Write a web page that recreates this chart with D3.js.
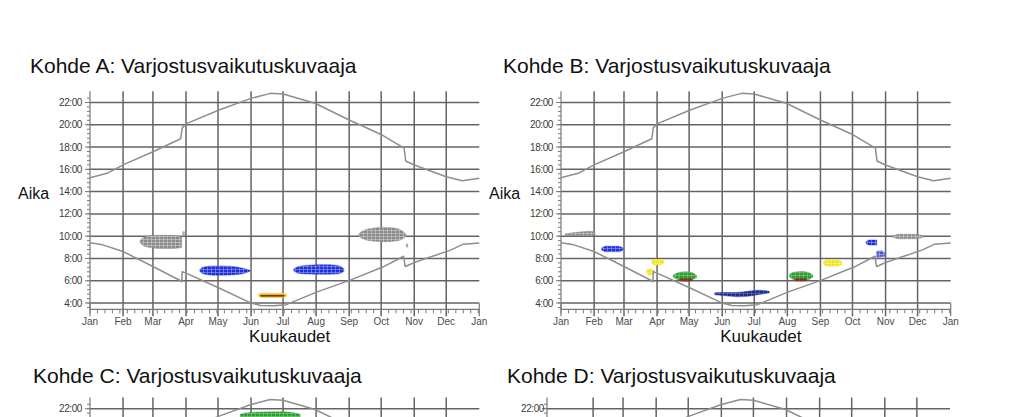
<!DOCTYPE html>
<html><head><meta charset="utf-8">
<script src="https://cdn.jsdelivr.net/npm/d3@7"></script>
<style>
body{margin:0;background:#fff}
svg{display:block}
text{font-family:"Liberation Sans",Arial,sans-serif}
</style>
</head><body>
<svg id="c" width="1024" height="417"></svg>
<script>
// ---------- data ----------
const monthLabels = ["Jan","Feb","Mar","Apr","May","Jun","Jul","Aug","Sep","Oct","Nov","Dec","Jan"];
const monthStartDays = [0,31,59,90,120,151,181,212,243,273,304,334,365];
const hourTicks = [4,6,8,10,12,14,16,18,20,22];
const hourLabels = ["4:00","6:00","8:00","10:00","12:00","14:00","16:00","18:00","20:00","22:00"];
const titles = ["Kohde A: Varjostusvaikutuskuvaaja","Kohde B: Varjostusvaikutuskuvaaja","Kohde C: Varjostusvaikutuskuvaaja","Kohde D: Varjostusvaikutuskuvaaja"];
const yAxisTitle = "Aika";
const xAxisTitle = "Kuukaudet";

// sunrise / sunset [dayOfYear, hour]
const sunrise = [[0,9.4],[12,9.22],[31,8.62],[59,7.28],[85,6.0],[86,5.9],[86.5,6.82],[90,6.68],[122,5.3],[150,4.03],[160,3.78],[172,3.75],[184,3.85],[213,5.0],[244,6.05],[275,7.25],[294,8.2],[295.5,7.28],[306,7.7],[338,8.75],[350,9.28],[365,9.38]];
const sunset = [[0,15.25],[16,15.64],[32,16.45],[59,17.58],[85,18.75],[86.5,19.75],[91,20.13],[121,21.33],[151,22.37],[169,22.82],[181,22.76],[211,21.93],[243,20.43],[274,19.08],[294.5,17.9],[296,16.75],[304,16.39],[334,15.34],[349,14.98],[365,15.19]];

// shadow periods [day, startHour, endHour]
const aGrayMar = [[47,9.42,9.62],[50,9.15,9.88],[55,9.0,10.02],[62,8.9,10.08],[72,8.88,10.08],[80,8.9,10.04],[86,8.98,9.95]];
const aGrayMarTick = [[87,10.1,10.4],[88.5,10.1,10.4]];
const aBlueMay = [[103,6.84,7.0],[106,6.62,7.22],[115,6.5,7.32],[126,6.5,7.32],[136,6.54,7.26],[144,6.65,7.1],[150,6.84,6.94]];
const aGoldJun = [[158,4.58,4.78],[161,4.5,4.88],[181,4.5,4.88],[184,4.58,4.78]];
const aRedJun = [[160,4.6,4.69],[182,4.6,4.69]];
const aBlueAug = [[191,6.9,7.06],[195,6.68,7.26],[205,6.6,7.4],[220,6.58,7.44],[230,6.6,7.4],[236,6.72,7.22],[238,6.84,7.08]];
const aGrayOct = [[252,10.02,10.22],[256,9.75,10.48],[265,9.56,10.72],[275,9.5,10.8],[285,9.55,10.74],[292,9.7,10.52],[296,9.96,10.22]];
const aGrayOctTick = [[296.5,9.02,9.3],[298,9.02,9.3]];

const bGrayJan = [[4,10.05,10.22],[12,10.05,10.32],[22,10.05,10.42],[28,10.05,10.45],[32,10.05,10.28]];
const bBlueFeb = [[38,8.76,8.94],[42,8.6,9.1],[54,8.6,9.1],[58,8.76,8.94]];
const bYellowApr = [[85,7.55,7.8],[88,7.4,7.92],[94,7.45,7.88],[96.5,7.6,7.75]];
const bYellowMar = [[80,6.68,6.9],[83,6.5,7.05],[87,6.6,6.95]];
const bGreenMay = [[105,6.36,6.5],[109,6.12,6.7],[117,6.02,6.8],[123,6.1,6.72],[127,6.3,6.45]];
const bBrownMay = [[111,6.0,6.2],[117,5.96,6.22],[123,6.0,6.2]];
const bNavyJun = [[144,4.74,4.92],[155,4.64,4.95],[165,4.56,4.95],[175,4.6,5.05],[185,4.76,5.15],[195,4.9,5.05]];
const bGreenAug = [[214,6.36,6.55],[218,6.1,6.76],[226,6.04,6.82],[232,6.1,6.72],[236,6.36,6.5]];
const bBrownAug = [[219,6.0,6.2],[225,5.98,6.22],[230,6.0,6.2]];
const bYellowSep = [[246,7.45,7.7],[249,7.32,7.86],[259,7.32,7.86],[263,7.45,7.7]];
const bBlueOct = [[285.7,9.35,9.5],[289,9.2,9.66],[295.7,9.2,9.66]];
const bBlueNov = [[295.7,8.1,8.65],[300,8.15,8.69],[303.5,8.2,8.45]];
const bGrayNov = [[311,9.9,10.05],[317,9.76,10.18],[332,9.76,10.18],[339,9.9,10.05]];

const cGreenJun = [[141,20.5,21.5],[146,20.5,21.62],[160,20.5,21.7],[180,20.5,21.72],[192,20.5,21.62],[197,20.5,21.5]];

// ---------- styling ----------
const palette = {
  gray:["#8a8a8a","#c6c6c6"], blue:["#1f30d8","#8592f0"], navy:["#1d2a8c","#5d68b8"],
  lightblue:["#4b5ad4","#a3acf0"], yellow:["#f1e41e","#faf07a"], gold:["#efc01a","#f8da60"],
  green:["#2f9a36","#72c872"], brown:["#7b3418","#9e5636"], darkred:["#5e160a","#5e160a"]
};
const shadowLayers = [
  [[aGrayMar,"gray"],[aGrayMarTick,"gray"],[aBlueMay,"blue"],[aGoldJun,"gold"],[aRedJun,"darkred"],[aBlueAug,"blue"],[aGrayOct,"gray"],[aGrayOctTick,"gray"]],
  [[bGrayJan,"gray"],[bBlueFeb,"blue"],[bYellowApr,"yellow"],[bYellowMar,"yellow"],[bGreenMay,"green"],[bBrownMay,"brown"],[bNavyJun,"navy"],[bGreenAug,"green"],[bBrownAug,"brown"],[bYellowSep,"yellow"],[bBlueOct,"blue"],[bBlueNov,"lightblue"],[bGrayNov,"gray"]],
  [[cGreenJun,"green"]],
  []
];
const panels = [
  {tx:30, ty:73, axisX:90, x0:90, x1:479.3, y22:102.5, y4:303, labOff:8},
  {tx:503, ty:73, axisX:561, x0:561, x1:950.7, y22:102.5, y4:303, labOff:8},
  {tx:33, ty:383, axisX:90, x0:90, x1:479.3, y22:408.7, y4:609.2, labOff:8},
  {tx:507, ty:383, axisX:547, x0:560, x1:950, y22:408.7, y4:609.2, labOff:3}
];
const H = 417;

const svg = d3.select("#c");
svg.append("rect").attr("width",1024).attr("height",H).attr("fill","#fff");
const defs = svg.append("defs");
Object.entries(palette).forEach(([k,[c1,c2]]) => {
  const p = defs.append("pattern").attr("id","p-"+k).attr("width",4).attr("height",3).attr("patternUnits","userSpaceOnUse");
  p.append("rect").attr("width",4).attr("height",3).attr("fill",c1);
  p.append("path").attr("d","M0 2.5H4M3.5 0V3").attr("stroke",c2).attr("stroke-width",0.7);
});

const gridColor = "#646464", axisColor = "#7a7a7a", curveColor = "#8e8e8e";
const visible = v => v > 0 && v < H - 3;

panels.forEach((cfg, pi) => {
  const g = svg.append("g");
  const x = d3.scaleLinear().domain([0,365]).range([cfg.x0, cfg.x1]);
  const y = d3.scaleLinear().domain([4,22]).range([cfg.y4, cfg.y22]);
  const xEnd = x(365);
  const axisY = y(3.43);
  const topY = y(23);
  const bottomY = Math.min(axisY, H + 2);

  g.append("text").attr("x",cfg.tx).attr("y",cfg.ty).attr("font-size",21).attr("fill","#111").text(titles[pi]);

  // horizontal grid
  g.selectAll(".hg").data(hourTicks.filter(d=>y(d) < H)).join("line")
    .attr("x1",cfg.axisX).attr("x2",xEnd).attr("y1",d=>y(d)).attr("y2",d=>y(d))
    .attr("stroke",gridColor).attr("stroke-width",1.5);
  // vertical grid
  g.selectAll(".vg").data(monthStartDays.slice(1,12)).join("line")
    .attr("x1",d=>x(d)).attr("x2",d=>x(d)).attr("y1",topY).attr("y2",Math.min(axisY+7,H+2))
    .attr("stroke",gridColor).attr("stroke-width",1.5);
  // y axis line + ticks
  g.append("line").attr("x1",cfg.axisX).attr("x2",cfg.axisX).attr("y1",topY).attr("y2",bottomY)
    .attr("stroke",axisColor).attr("stroke-width",1.2);
  const minorH = d3.range(0,48).map(i=>3.6+i*0.4).filter(d=>y(d) < H);
  g.selectAll(".ym").data(minorH).join("line")
    .attr("x1",cfg.axisX-3).attr("x2",cfg.axisX).attr("y1",d=>y(d)).attr("y2",d=>y(d))
    .attr("stroke",axisColor).attr("stroke-width",1);
  const majorVis = hourTicks.map((d,i)=>[d,hourLabels[i]]).filter(d=>visible(y(d[0])));
  g.selectAll(".yM").data(majorVis).join("line")
    .attr("x1",cfg.axisX-5).attr("x2",cfg.axisX).attr("y1",d=>y(d[0])).attr("y2",d=>y(d[0]))
    .attr("stroke",axisColor).attr("stroke-width",1);
  g.selectAll(".yl").data(majorVis).join("text")
    .attr("x",cfg.axisX-cfg.labOff).attr("y",d=>y(d[0])).attr("dy","0.35em")
    .attr("text-anchor","end").attr("font-size",10).attr("letter-spacing",-0.4).attr("fill","#3a3a3a")
    .text(d=>d[1]);

  if (axisY < H) {
    // x axis
    g.append("line").attr("x1",cfg.axisX).attr("x2",xEnd).attr("y1",axisY).attr("y2",axisY)
      .attr("stroke",axisColor).attr("stroke-width",1.2);
    g.selectAll(".xm").data(d3.range(0,366,7)).join("line")
      .attr("x1",d=>x(d)).attr("x2",d=>x(d)).attr("y1",axisY).attr("y2",axisY+4)
      .attr("stroke",axisColor).attr("stroke-width",1);
    g.selectAll(".xM").data([0,365]).join("line")
      .attr("x1",d=>x(d)).attr("x2",d=>x(d)).attr("y1",axisY-6).attr("y2",axisY+7)
      .attr("stroke",axisColor).attr("stroke-width",1.2);
    g.selectAll(".xl").data(monthStartDays).join("text")
      .attr("x",d=>x(d)).attr("y",axisY+16).attr("text-anchor","middle")
      .attr("font-size",10).attr("fill","#4a4a4a").text((d,i)=>monthLabels[i]);
    g.append("text").attr("x",(cfg.x0+cfg.x1)/2+5).attr("y",axisY+33).attr("text-anchor","middle")
      .attr("font-size",17).attr("fill","#111").text(xAxisTitle);
  }
  if (visible(y(14)+7)) {
    g.append("text").attr("x",cfg.axisX-72).attr("y",y(14)+7).attr("font-size",16).attr("fill","#111").text(yAxisTitle);
  }

  // shadow periods
  const area = d3.area().x(d=>x(d[0])).y0(d=>y(d[1])).y1(d=>y(d[2])).curve(d3.curveMonotoneX);
  shadowLayers[pi].forEach(([rows,col]) => {
    g.append("path").datum(rows).attr("d",area).attr("fill","url(#p-"+col+")")
      .attr("stroke",palette[col][0]).attr("stroke-width",0.6).attr("stroke-opacity",0.7);
  });

  // sunrise / sunset
  const line = d3.line().x(d=>x(d[0])).y(d=>y(d[1]));
  [sunrise, sunset].forEach(s => {
    g.append("path").datum(s).attr("d",line).attr("fill","none")
      .attr("stroke",curveColor).attr("stroke-width",1.5).attr("stroke-linejoin","round");
  });
});
</script>
</body></html>
